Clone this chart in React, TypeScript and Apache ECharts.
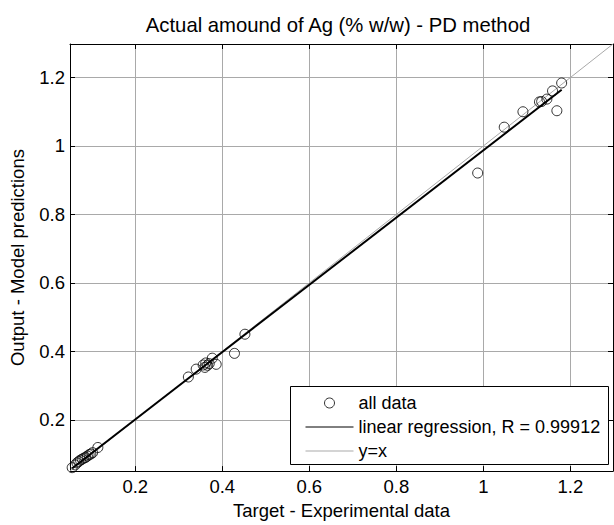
import React, { useEffect, useRef } from "react";
import * as echarts from "echarts";

const TITLE = "Actual amound of Ag (% w/w) - PD method";
const X_NAME = "Target - Experimental data";
const Y_NAME = "Output - Model predictions";
const AXIS_MIN = 0.05;
const AXIS_MAX = 1.298;
const TICKS = [0.2, 0.4, 0.6, 0.8, 1, 1.2];
const LEGEND_NAMES = ["all data", "linear regression, R = 0.99912", "y=x"];

// Target (experimental) values
const TARGET = [
  0.055, 0.062, 0.066, 0.07, 0.074, 0.078, 0.082, 0.086, 0.09, 0.094, 0.098, 0.102, 0.114,
  0.322, 0.34, 0.356, 0.36, 0.362, 0.366, 0.37, 0.377, 0.386, 0.428, 0.452,
  0.987, 1.048, 1.091, 1.129, 1.134, 1.146, 1.159, 1.169, 1.18,
];
// Output (model prediction) values
const OUTPUT = [
  0.06, 0.068, 0.074, 0.078, 0.082, 0.085, 0.088, 0.09, 0.094, 0.098, 0.1, 0.104, 0.119,
  0.325, 0.348, 0.36, 0.353, 0.366, 0.359, 0.364, 0.38, 0.362, 0.394, 0.45,
  0.921, 1.055, 1.1, 1.129, 1.13, 1.137, 1.161, 1.103, 1.184,
];

const FONT = "'Liberation Sans', Arial, Helvetica, sans-serif";
const FS = 18.5;
const LEGEND_FS = 18;
const TITLE_FS = 20.3;

function leastSquares(xs: number[], ys: number[]) {
  const n = xs.length;
  let sx = 0, sy = 0, sxx = 0, sxy = 0;
  for (let i = 0; i < n; i++) {
    sx += xs[i]; sy += ys[i]; sxx += xs[i] * xs[i]; sxy += xs[i] * ys[i];
  }
  const slope = (n * sxy - sx * sy) / (n * sxx - sx * sx);
  const intercept = (sy - slope * sx) / n;
  return { slope, intercept };
}

export default function App() {
  const ref = useRef<HTMLDivElement>(null);
  useEffect(() => {
    if (!ref.current) return;
    const chart = echarts.init(ref.current, null, { renderer: "svg" });
    const points = TARGET.map((t, i) => [t, OUTPUT[i]]);
    const { slope, intercept } = leastSquares(TARGET, OUTPUT);
    const tMin = Math.min(...TARGET);
    const tMax = Math.max(...TARGET);
    const fitLine = [
      [tMin, slope * tMin + intercept],
      [tMax, slope * tMax + intercept],
    ];
    const identity = [
      [AXIS_MIN, AXIS_MIN],
      [AXIS_MAX, AXIS_MAX],
    ];
    const gridColor = "#a9a9a9";
    const baseAxis = (pos: string, main: boolean, isX: boolean) => ({
      type: "value",
      min: AXIS_MIN,
      max: AXIS_MAX,
      position: pos,
      axisLine: { show: true, onZero: false, lineStyle: { color: "#000", width: 1 } },
      axisTick: {
        show: true,
        inside: true,
        length: 5,
        customValues: TICKS,
        lineStyle: { color: "#000", width: 1 },
      },
      axisLabel: main
        ? {
            show: true,
            customValues: TICKS,
            color: "#000",
            fontSize: FS,
            fontFamily: FONT,
            margin: isX ? 6 : 5,
            formatter: (v: number) => String(v),
          }
        : { show: false },
      splitLine: main ? { show: true, lineStyle: { color: gridColor, width: 1 } } : { show: false },
      ...(main
        ? {
            name: isX ? X_NAME : Y_NAME,
            nameLocation: "middle",
            nameGap: isX ? 28 : 43,
            nameTextStyle: { color: "#000", fontSize: FS, fontFamily: FONT },
          }
        : {}),
    });

    const hiddenSymbol = { color: "transparent", borderWidth: 0, opacity: 0 };

    chart.setOption({
      animation: false,
      backgroundColor: "#fff",
      grid: { left: 69, top: 44, right: 1, bottom: 51, containLabel: false },
      xAxis: [baseAxis("bottom", true, true), baseAxis("top", false, true)],
      yAxis: [baseAxis("left", true, false), baseAxis("right", false, false)],
      legend: {
        orient: "vertical",
        left: 300,
        top: 389,
        itemWidth: 48,
        itemHeight: 10,
        itemGap: 6,
        selectedMode: false,
        z: 200,
        textStyle: { color: "#000", fontSize: LEGEND_FS, fontFamily: FONT },
        data: [
          {
            name: LEGEND_NAMES[0],
            icon: "circle",
            itemStyle: { color: "#fff", borderColor: "#000", borderWidth: 1 },
          },
          { name: LEGEND_NAMES[1], lineStyle: { width: 1, color: "#000" }, itemStyle: hiddenSymbol },
          { name: LEGEND_NAMES[2], lineStyle: { width: 1, color: gridColor }, itemStyle: hiddenSymbol },
        ],
      },
      graphic: {
        elements: [
          {
            type: "rect",
            z: 100,
            shape: { x: 290.5, y: 386.5, width: 318, height: 78 },
            style: { fill: "#fff", stroke: "#000", lineWidth: 1 },
          },
          {
            type: "text",
            z: 100,
            x: 338,
            y: 25,
            style: {
              text: TITLE,
              fill: "#000",
              font: `${TITLE_FS}px ${FONT}`,
              textAlign: "center",
              textVerticalAlign: "middle",
            },
          },
        ],
      },
      series: [
        {
          name: LEGEND_NAMES[2],
          type: "line",
          data: identity,
          symbol: "none",
          itemStyle: { color: gridColor },
          lineStyle: { color: gridColor, width: 1 },
          z: 2,
        },
        {
          name: LEGEND_NAMES[1],
          type: "line",
          data: fitLine,
          symbol: "none",
          itemStyle: { color: "#000" },
          lineStyle: { color: "#000", width: 2 },
          z: 3,
        },
        {
          name: LEGEND_NAMES[0],
          type: "scatter",
          data: points,
          symbol: "circle",
          symbolSize: 10,
          itemStyle: { color: "transparent", borderColor: "#000", borderWidth: 1 },
          z: 4,
        },
      ],
    });
    return () => chart.dispose();
  }, []);
  return (
    <div
      ref={ref}
      style={{ position: "fixed", left: 0, top: 0, width: 614, height: 525, background: "#fff" }}
    />
  );
}
